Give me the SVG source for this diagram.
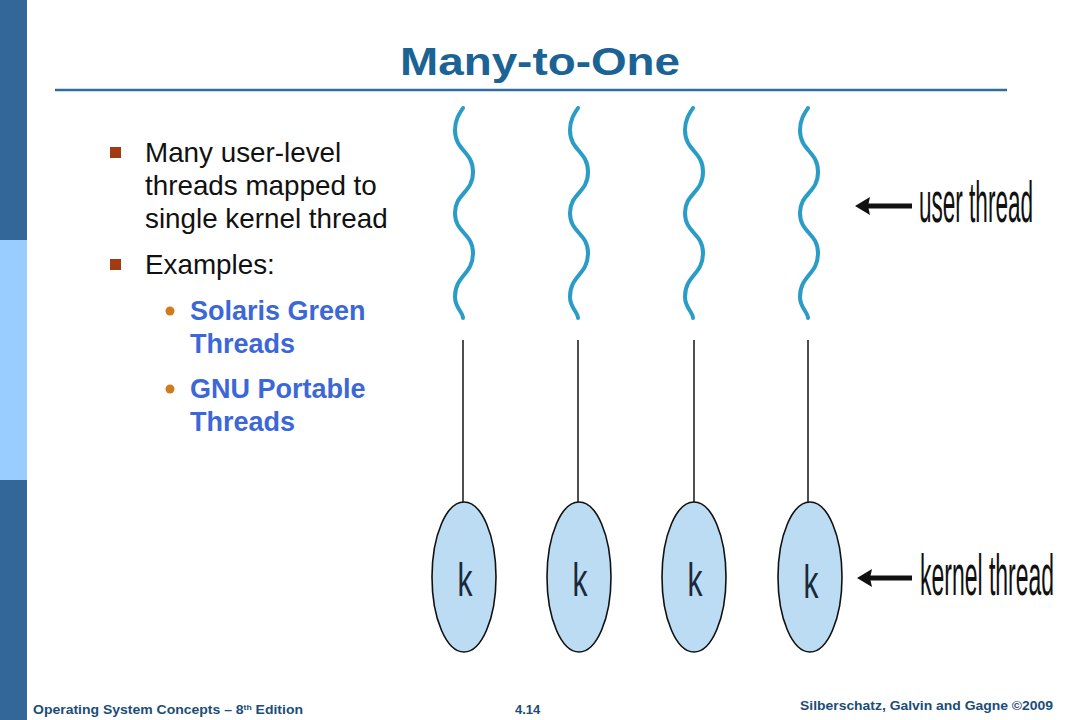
<svg xmlns="http://www.w3.org/2000/svg" xmlns:xlink="http://www.w3.org/1999/xlink" width="1080" height="720" viewBox="0 0 1080 720">
<style>
.title{font-family:"Liberation Sans",Arial,sans-serif;font-size:39px;font-weight:bold;fill:#1a6394;}
.body{font-family:"Liberation Sans",Arial,sans-serif;font-size:27.8px;fill:#111;}
.sub{font-family:"Liberation Sans",Arial,sans-serif;font-size:27px;font-weight:bold;fill:#3b67d8;}
.foot{font-family:"Liberation Sans",Arial,sans-serif;font-size:13px;font-weight:bold;fill:#1a4d78;}
.lbl{font-family:"Liberation Sans",Arial,sans-serif;font-size:58px;fill:#111;}
.k{font-family:"Liberation Sans",Arial,sans-serif;font-size:47px;fill:#1a2a3a;}
.wave{fill:none;stroke:#2a9cc6;stroke-width:4;stroke-linecap:round;}
.stem{stroke:#222;stroke-width:1.6;}
.kt{fill:#bcdcf3;stroke:#111;stroke-width:1.6;}
.arr{stroke:#111;stroke-width:5;}
.head{fill:#111;}
</style>
<defs>
<path id="w" d="M0,0 C-4,6 -8,12 -8,22 C-8,43 10,43 10,64 C10,85 -8,85 -8,105 C-8,125 10,125 10,145 C10,167 -8,167 -8,189 C-8,200 0,204 0,210"/>
</defs>
<rect x="0" y="0" width="1080" height="720" fill="#fff"/>
<rect x="0" y="0" width="27" height="240" fill="#336699"/>
<rect x="0" y="240" width="27" height="240" fill="#99ccff"/>
<rect x="0" y="480" width="27" height="240" fill="#336699"/>
<text class="title" x="540" y="75" text-anchor="middle" textLength="280" lengthAdjust="spacingAndGlyphs">Many-to-One</text>
<line x1="55" y1="90" x2="1007" y2="90" stroke="#2f6e9e" stroke-width="2.5"/>
<g id="bullets">
<rect x="110" y="147" width="11" height="11" fill="#a03c10"/>
<text class="body" x="145" y="162">Many user-level</text>
<text class="body" x="145" y="195">threads mapped to</text>
<text class="body" x="145" y="228">single kernel thread</text>
<rect x="110" y="259" width="11" height="11" fill="#a03c10"/>
<text class="body" x="145" y="274">Examples:</text>
<circle cx="170" cy="311" r="4.5" fill="#d27a1e"/>
<text class="sub" x="190" y="320">Solaris Green</text>
<text class="sub" x="190" y="353">Threads</text>
<circle cx="170" cy="389" r="4.5" fill="#d27a1e"/>
<text class="sub" x="190" y="398">GNU Portable</text>
<text class="sub" x="190" y="431">Threads</text>
</g>
<g id="connectors">
<line class="stem" x1="463" y1="340" x2="463" y2="503"/>
<line class="stem" x1="578" y1="340" x2="578" y2="503"/>
<line class="stem" x1="694" y1="340" x2="694" y2="503"/>
<line class="stem" x1="808" y1="340" x2="808" y2="503"/>
<line class="arr" x1="912" y1="206" x2="866" y2="206"/>
<path class="head" d="M855,206 L870,197 L868,206 L870,215 Z"/>
<line class="arr" x1="912" y1="578" x2="868" y2="578"/>
<path class="head" d="M857,578 L872,569 L870,578 L872,587 Z"/>
</g>
<g id="user-thread-1"><use xlink:href="#w" class="wave" transform="translate(463,108)"/></g>
<g id="user-thread-2"><use xlink:href="#w" class="wave" transform="translate(578,108)"/></g>
<g id="user-thread-3"><use xlink:href="#w" class="wave" transform="translate(693,108)"/></g>
<g id="user-thread-4"><use xlink:href="#w" class="wave" transform="translate(808,108)"/></g>
<g id="kernel-thread-1"><ellipse class="kt" cx="464" cy="577" rx="32" ry="75"/><text class="k" x="465" y="596" text-anchor="middle" textLength="15" lengthAdjust="spacingAndGlyphs">k</text></g>
<g id="kernel-thread-2"><ellipse class="kt" cx="579" cy="577" rx="32" ry="75"/><text class="k" x="580" y="596" text-anchor="middle" textLength="15" lengthAdjust="spacingAndGlyphs">k</text></g>
<g id="kernel-thread-3"><ellipse class="kt" cx="694" cy="577" rx="32" ry="75"/><text class="k" x="695" y="596" text-anchor="middle" textLength="15" lengthAdjust="spacingAndGlyphs">k</text></g>
<g id="kernel-thread-4"><ellipse class="kt" cx="810" cy="577" rx="32" ry="75"/><text class="k" x="811" y="598" text-anchor="middle" textLength="15" lengthAdjust="spacingAndGlyphs">k</text></g>
<g id="label-user"><text class="lbl" transform="translate(919,222) scale(0.4,1)" textLength="285" lengthAdjust="spacingAndGlyphs">user thread</text></g>
<g id="label-kernel"><text class="lbl" transform="translate(920,595) scale(0.4,1)" textLength="335" lengthAdjust="spacingAndGlyphs">kernel thread</text></g>
<g id="footer">
<text class="foot" x="33" y="714" textLength="270" lengthAdjust="spacingAndGlyphs">Operating System Concepts – 8<tspan font-size="8" dy="-4">th</tspan><tspan dy="4"> Edition</tspan></text>
<text class="foot" x="515" y="714">4.14</text>
<text class="foot" x="800" y="710" textLength="253" lengthAdjust="spacingAndGlyphs">Silberschatz, Galvin and Gagne ©2009</text>
</g>
</svg>
